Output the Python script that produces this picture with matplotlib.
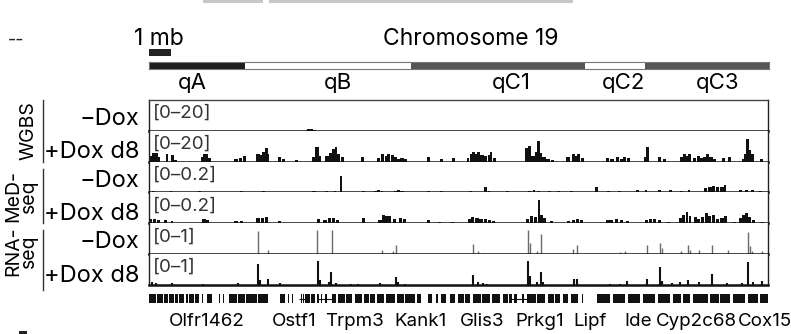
import numpy as np
import matplotlib.pyplot as plt
from matplotlib import transforms
from matplotlib.lines import Line2D
from matplotlib.patches import Rectangle

plt.rcParams['font.family'] = ['Inter', 'DejaVu Sans']

# ---------------- data ----------------
SPAN_MB = 28.14           # width of the shown window, Mb
SCALE_MB = 1.0
CHR19_LEN = 61.4

band_names  = ["qA", "qB", "qC1", "qC2", "qC3"]
band_edges  = [0.0, 9.5, 25.9, 43.2, 49.1, 61.4]
band_colors = ["#1e1e1e", "white", "#555555", "white", "#555555"]
band_label_pos = [4.3, 18.7, 35.9, 47.0, 56.3]

# (centre Mb, width Mb, value)
wgbs_minus = [(7.2, 0.1, 0.6), (7.32, 0.2, 1.3), (7.5, 0.1, 0.5)]
wgbs_plus = [
    (0.1, 0.12, 4.0), (0.27, 0.2, 6.2), (0.42, 0.08, 3.0), (0.82, 0.09, 5.5), (1.05, 0.09, 4.8), (1.2, 0.1, 1.0),
    (2.45, 0.1, 3.5), (2.57, 0.15, 5.5), (2.75, 0.12, 2.5),
    (3.95, 0.12, 2.0), (4.15, 0.1, 2.5), (4.35, 0.08, 4.0),
    (4.95, 0.12, 5.5), (5.1, 0.1, 4.5), (5.2, 0.1, 7.0), (5.33, 0.1, 9.7), (5.42, 0.06, 5.0),
    (5.95, 0.1, 3.0), (6.1, 0.08, 2.0), (6.7, 0.1, 1.0),
    (7.48, 0.1, 3.0), (7.62, 0.14, 10.3), (7.75, 0.08, 4.0),
    (8.1, 0.12, 4.0), (8.25, 0.1, 6.0), (8.38, 0.08, 9.0), (8.5, 0.08, 10.3), (8.62, 0.1, 5.5), (8.8, 0.12, 3.5),
    (9.7, 0.12, 3.5),
    (10.45, 0.1, 2.5), (10.62, 0.1, 5.0), (10.78, 0.08, 4.0), (10.9, 0.1, 5.5), (11.05, 0.1, 4.5),
    (11.2, 0.1, 3.0), (11.35, 0.08, 1.5), (11.5, 0.1, 2.5), (11.68, 0.1, 1.5),
    (12.7, 0.08, 3.0), (13.3, 0.1, 1.5), (13.85, 0.12, 2.5),
    (14.5, 0.08, 2.5), (14.65, 0.1, 5.0), (14.75, 0.08, 7.0), (14.88, 0.1, 5.0), (15.0, 0.1, 7.0),
    (15.15, 0.12, 4.5), (15.3, 0.1, 4.0), (15.45, 0.08, 4.5), (15.55, 0.08, 7.0), (15.7, 0.1, 2.5),
    (17.18, 0.1, 9.7), (17.3, 0.08, 11.0), (17.45, 0.12, 4.0), (17.62, 0.08, 7.0), (17.7, 0.08, 14.5),
    (17.82, 0.08, 6.0), (17.95, 0.12, 3.5), (18.15, 0.15, 2.0), (18.35, 0.1, 1.0),
    (19.05, 0.12, 3.0), (19.3, 0.12, 5.0), (19.42, 0.08, 4.0), (19.52, 0.1, 5.0), (19.7, 0.08, 2.5),
    (20.85, 0.12, 2.5),
    (21.05, 0.12, 2.0), (21.3, 0.1, 3.0), (21.5, 0.1, 2.0), (21.62, 0.1, 3.5), (21.8, 0.1, 2.5),
    (22.55, 0.06, 3.0), (22.65, 0.1, 10.0), (23.2, 0.1, 3.5), (23.45, 0.1, 1.5),
    (24.2, 0.1, 3.5), (24.35, 0.1, 5.0), (24.48, 0.08, 4.0), (24.57, 0.08, 5.0), (24.8, 0.1, 2.5),
    (25.0, 0.1, 4.0), (25.12, 0.08, 2.5), (25.25, 0.1, 3.5), (25.4, 0.08, 5.0), (25.55, 0.1, 3.0),
    (25.7, 0.1, 1.5), (26.1, 0.1, 2.5), (26.4, 0.1, 3.0),
    (27.0, 0.08, 2.0), (27.12, 0.08, 5.5), (27.22, 0.08, 16.0), (27.32, 0.08, 8.0), (27.45, 0.1, 5.5),
    (27.85, 0.08, 2.0),
]
med_minus = [
    (0.2, 0.1, 0.007), (0.6, 0.1, 0.006), (1.0, 0.08, 0.008), (1.5, 0.1, 0.006), (2.3, 0.1, 0.007),
    (3.9, 0.1, 0.006), (4.2, 0.08, 0.008), (5.0, 0.1, 0.006), (5.2, 0.1, 0.008), (6.1, 0.1, 0.006),
    (7.5, 0.1, 0.007), (8.05, 0.1, 0.007), (8.45, 0.08, 0.012), (8.73, 0.08, 0.117),
    (9.75, 0.1, 0.007), (10.3, 0.12, 0.012), (10.45, 0.1, 0.02), (10.6, 0.08, 0.01),
    (11.2, 0.1, 0.012), (11.35, 0.1, 0.02), (11.5, 0.1, 0.012), (12.7, 0.1, 0.012), (13.3, 0.1, 0.008),
    (14.6, 0.1, 0.01), (15.3, 0.06, 0.035), (15.45, 0.08, 0.01), (16.0, 0.1, 0.006), (16.3, 0.1, 0.008),
    (17.3, 0.1, 0.012), (17.5, 0.08, 0.02), (17.7, 0.1, 0.012), (18.2, 0.1, 0.008), (18.6, 0.1, 0.008),
    (19.2, 0.1, 0.008), (20.35, 0.07, 0.035), (20.9, 0.1, 0.008),
    (21.4, 0.1, 0.012), (22.2, 0.08, 0.02), (22.6, 0.08, 0.02), (23.2, 0.08, 0.02), (23.7, 0.08, 0.02),
    (24.2, 0.1, 0.012), (24.55, 0.08, 0.02),
    (25.3, 0.12, 0.028), (25.5, 0.12, 0.04), (25.68, 0.1, 0.048), (25.85, 0.1, 0.04), (26.05, 0.12, 0.035),
    (26.2, 0.06, 0.05), (26.9, 0.1, 0.02), (27.15, 0.1, 0.02), (27.45, 0.1, 0.014), (27.8, 0.1, 0.012),
]
med_plus = [
    (0.05, 0.1, 0.028), (0.25, 0.12, 0.028), (0.42, 0.08, 0.02), (0.75, 0.08, 0.02), (1.05, 0.08, 0.014),
    (2.5, 0.12, 0.028), (2.65, 0.1, 0.02), (3.95, 0.12, 0.014), (4.2, 0.12, 0.014),
    (4.95, 0.12, 0.035), (5.15, 0.12, 0.035), (5.33, 0.1, 0.04), (5.95, 0.1, 0.014),
    (7.7, 0.1, 0.028), (8.0, 0.1, 0.02), (8.2, 0.12, 0.035), (8.38, 0.12, 0.035), (8.55, 0.1, 0.02),
    (9.75, 0.12, 0.035), (10.5, 0.1, 0.02), (10.65, 0.08, 0.06), (10.8, 0.1, 0.048), (10.95, 0.1, 0.048),
    (11.15, 0.12, 0.028), (11.45, 0.1, 0.035), (11.6, 0.1, 0.028), (12.7, 0.1, 0.02),
    (13.2, 0.1, 0.007), (13.8, 0.1, 0.007),
    (14.55, 0.1, 0.028), (14.7, 0.1, 0.04), (14.9, 0.12, 0.035), (15.1, 0.12, 0.028), (15.3, 0.12, 0.028),
    (15.5, 0.1, 0.02), (15.65, 0.08, 0.014),
    (17.2, 0.1, 0.028), (17.38, 0.1, 0.048), (17.58, 0.1, 0.04), (17.72, 0.06, 0.16), (17.83, 0.08, 0.055),
    (17.98, 0.1, 0.035), (18.3, 0.1, 0.014),
    (19.05, 0.1, 0.014), (19.3, 0.1, 0.02), (19.48, 0.08, 0.028), (19.65, 0.08, 0.02), (20.85, 0.1, 0.02),
    (21.0, 0.12, 0.02), (21.25, 0.12, 0.028), (21.5, 0.1, 0.02), (21.75, 0.1, 0.014),
    (22.6, 0.1, 0.02), (22.8, 0.1, 0.028), (23.0, 0.1, 0.028), (23.2, 0.1, 0.02), (23.6, 0.1, 0.007),
    (24.15, 0.08, 0.035), (24.3, 0.08, 0.06), (24.45, 0.08, 0.076), (24.58, 0.06, 0.048),
    (24.85, 0.1, 0.04), (25.0, 0.1, 0.028), (25.18, 0.1, 0.04), (25.33, 0.08, 0.07), (25.48, 0.1, 0.048),
    (25.68, 0.1, 0.055), (25.85, 0.08, 0.028), (26.05, 0.1, 0.035), (26.22, 0.08, 0.048), (26.6, 0.1, 0.007),
    (26.88, 0.1, 0.035), (27.02, 0.1, 0.055), (27.17, 0.08, 0.07), (27.3, 0.1, 0.04), (27.48, 0.1, 0.02),
    (27.9, 0.1, 0.007),
]
# (position Mb, value)
rna_minus = [
    (0.14, 0.03), (4.95, 0.79), (5.4, 0.14), (7.64, 0.83), (8.32, 0.83), (10.6, 0.14), (11.1, 0.1),
    (11.23, 0.31), (14.73, 0.34), (14.95, 0.1), (15.2, 0.03), (17.23, 0.83), (17.32, 0.38), (17.64, 0.1),
    (17.82, 0.69), (19.27, 0.17), (19.45, 0.31), (21.4, 0.07), (21.64, 0.1), (22.64, 0.31), (23.23, 0.38),
    (23.3, 0.2), (24.18, 0.1), (24.5, 0.31), (24.6, 0.14), (25.0, 0.14), (25.6, 0.31), (26.3, 0.14),
    (27.23, 0.76), (27.32, 0.28), (27.4, 0.1), (27.86, 0.1),
]
rna_plus = [
    (0.14, 0.1), (0.32, 0.07), (1.05, 0.07), (2.45, 0.03), (4.05, 0.07), (4.95, 0.72), (5.05, 0.17),
    (5.4, 0.2), (5.95, 0.07), (7.68, 0.83), (7.77, 0.17), (8.18, 0.1), (8.27, 0.45), (8.5, 0.07),
    (9.18, 0.03), (9.5, 0.03), (10.5, 0.07), (11.23, 0.28), (11.32, 0.1), (11.64, 0.03), (14.73, 0.34),
    (14.95, 0.1), (15.18, 0.07), (15.36, 0.03), (17.23, 0.83), (17.32, 0.31), (17.64, 0.1), (17.82, 0.45),
    (17.9, 0.1), (19.32, 0.2), (19.45, 0.2), (20.95, 0.03), (21.4, 0.03), (21.73, 0.14), (22.64, 0.2),
    (23.23, 0.62), (23.3, 0.14), (23.77, 0.07), (24.14, 0.1), (24.5, 0.17), (25.0, 0.1), (25.6, 0.38),
    (26.27, 0.07), (26.95, 0.07), (27.23, 0.79), (27.45, 0.1), (27.86, 0.14),
]

track_names  = ["\u2212Dox", "+Dox d8"] * 3
track_ranges = [20, 20, 0.2, 0.2, 1, 1]
range_labels = ["[0\u201320]", "[0\u201320]", "[0\u20130.2]", "[0\u20130.2]", "[0\u20131]", "[0\u20131]"]
track_data   = [wgbs_minus, wgbs_plus, med_minus, med_plus, rna_minus, rna_plus]
groups       = ["WGBS", "MeD-\nseq", "RNA-\nseq"]

# gene blocks (start Mb, end Mb)
gene_blocks = [
    (0.0, 0.3), (0.36, 0.62), (0.68, 0.86), (0.91, 1.14), (1.2, 1.32), (1.36, 1.6), (1.66, 1.77),
    (1.82, 2.05), (2.1, 2.27), (2.41, 2.45), (2.64, 2.86),
    (3.18, 3.23), (3.36, 3.41), (3.64, 4.0), (4.05, 4.36), (4.41, 4.9), (4.95, 5.41), (5.95, 6.18),
    (6.32, 6.36), (6.5, 6.55), (6.9, 6.95), (7.0, 7.03),
    (7.09, 7.3), (7.35, 7.55), (7.64, 7.73), (7.82, 7.86), (8.0, 8.08), (8.3, 8.5), (8.59, 8.9),
    (8.95, 9.23), (9.36, 9.7), (9.76, 10.0), (10.05, 10.27), (10.36, 10.7), (10.76, 11.18),
    (11.27, 11.6), (11.66, 12.09), (12.18, 12.36), (12.68, 12.86), (13.05, 13.14), (13.27, 13.5),
    (13.68, 13.91), (14.05, 14.3), (14.36, 14.59), (14.73, 15.1), (15.16, 15.5), (15.59, 15.95),
    (16.09, 16.3), (16.36, 16.5), (16.59, 16.73), (16.95, 17.05),
    (17.18, 17.6), (17.66, 18.0), (18.14, 18.4), (18.46, 18.68), (18.82, 19.05), (19.18, 19.5),
    (19.68, 19.73), (20.36, 20.95), (21.09, 21.64), (21.77, 22.32), (22.45, 23.0), (23.14, 23.68),
    (23.82, 24.2), (24.26, 24.59), (24.73, 25.41), (25.5, 25.9), (25.96, 26.41), (26.55, 27.09),
    (27.23, 27.7), (27.76, 28.14),
]
intron_spans = [(6.82, 7.09), (7.68, 8.3), (16.4, 17.18)]
gene_names = ["Olfr1462", "Ostf1", "Trpm3", "Kank1", "Glis3", "Prkg1", "Lipf", "Ide", "Cyp2c68", "Cox15"]
gene_pos   = [2.64, 6.6, 9.34, 12.32, 15.14, 17.77, 20.05, 22.25, 24.9, 28.0]

# ---------------- layout (pixels) ----------------
W, H = 791, 334
X0, X1 = 149, 768
TRACK_TOP, TRACK_H = 100, 30.8
BAR_PAD = 0.04            # keeps narrow bins visible at this resolution


def fx(px):
    return px / W


def fy(py):
    return 1 - py / H


def add_px_axes(fig, x0, x1, y_top, y_bot):
    return fig.add_axes([fx(x0), fy(y_bot), (x1 - x0) / W, (y_bot - y_top) / H])


fig = plt.figure(figsize=(W / 100, H / 100), dpi=100)

# cut-off header bars
for a, b in [(203, 263), (269, 573)]:
    fig.add_artist(Rectangle((fx(a), fy(3)), (b - a) / W, 3 / H, transform=fig.transFigure,
                             color="#c8c8c8", lw=0))
fig.text(fx(8), fy(40), "--", fontsize=13, color="#222", va="center")

# scale bar
ax_sc = add_px_axes(fig, X0, X1, 49, 56)
ax_sc.barh(0, SCALE_MB, left=0, height=1, color="#222", lw=0)
ax_sc.set_xlim(0, SPAN_MB)
ax_sc.set_ylim(-0.5, 0.5)
ax_sc.axis("off")
fig.text(fx(134), fy(45), "1 mb", fontsize=16.5, ha="left", va="baseline")
fig.text(fx(471), fy(45), "Chromosome 19", fontsize=16.5, ha="center", va="baseline")

# ideogram
ax_id = add_px_axes(fig, X0, 769, 62, 69)
for i, name in enumerate(band_names):
    ax_id.barh(0, band_edges[i + 1] - band_edges[i], left=band_edges[i], height=1,
               color=band_colors[i], lw=0)
ax_id.set_xlim(0, CHR19_LEN)
ax_id.set_ylim(-0.5, 0.5)
ax_id.set_xticks([])
ax_id.set_yticks([])
for s in ax_id.spines.values():
    s.set_color("#777")
    s.set_linewidth(0.8)
tr = transforms.blended_transform_factory(ax_id.transData, fig.transFigure)
for name, pos in zip(band_names, band_label_pos):
    fig.text(pos, fy(83), name, transform=tr, fontsize=16, ha="center", va="center")

# signal tracks
for i, data in enumerate(track_data):
    y_top = TRACK_TOP + i * TRACK_H
    ax = add_px_axes(fig, X0, X1, y_top, y_top + TRACK_H)
    rng = track_ranges[i]
    if i >= 4:
        pos = [p for p, v in data]
        val = [v for p, v in data]
        col = "#6a6a6a" if i == 4 else "#111111"
        ax.vlines(pos, 0, val, color=col, lw=1.0 if i == 4 else 1.5)
    else:
        pos = [p for p, w, v in data]
        wid = [w + BAR_PAD for p, w, v in data]
        val = [v for p, w, v in data]
        ax.bar(pos, val, width=wid, color="#111111", lw=0)
    ax.set_xlim(0, SPAN_MB)
    ax.set_ylim(0, rng * 1.08)
    ax.set_xticks([])
    ax.set_yticks([])
    ax.spines["bottom"].set_linewidth(1.8)
    ax.spines["bottom"].set_color("#111")
    for side in ("left", "right"):
        ax.spines[side].set_linewidth(1.0)
        ax.spines[side].set_color("#222")
    if i == 0:
        ax.spines["top"].set_linewidth(1.0)
        ax.spines["top"].set_color("#444")
    else:
        ax.spines["top"].set_visible(False)
    ax.text(0.006, 0.56, range_labels[i], transform=ax.transAxes, fontsize=13.5,
            color="#333", ha="left", va="center")
    base = y_top + (25 if i % 2 == 0 else 27.5)
    fig.text(fx(139), fy(base), track_names[i], fontsize=17, ha="right", va="baseline")

# group labels with side rules
group_spans = [(100, 162), (169, 223), (230, 290)]
group_centres = [(28, 131), (21, 196), (21, 251)]
for name, (a, b), (cx, cy) in zip(groups, group_spans, group_centres):
    fig.add_artist(Line2D([fx(43), fx(43)], [fy(a), fy(b)], color="#333", lw=1.0))
    fig.text(fx(cx), fy(cy), name, rotation=90, fontsize=14, ha="center", va="center",
             multialignment="center", linespacing=0.85)

# gene track
ax_g = add_px_axes(fig, X0, X1, 294, 303)
ax_g.broken_barh([(a, b - a) for a, b in gene_blocks], (0, 1), facecolor="#111", lw=0)
for a, b in intron_spans:
    ax_g.hlines(0.5, a, b, color="#111", lw=0.8)
ax_g.set_xlim(0, SPAN_MB)
ax_g.set_ylim(0, 1)
ax_g.axis("off")
trg = transforms.blended_transform_factory(ax_g.transData, fig.transFigure)
for name, pos in zip(gene_names, gene_pos):
    fig.text(pos, fy(322), name, transform=trg, fontsize=13.5, ha="center", va="center")

fig.add_artist(Rectangle((fx(19), fy(334)), 8 / W, 3 / H, transform=fig.transFigure,
                         color="#222", lw=0))

fig.savefig("out.png", dpi=100)
